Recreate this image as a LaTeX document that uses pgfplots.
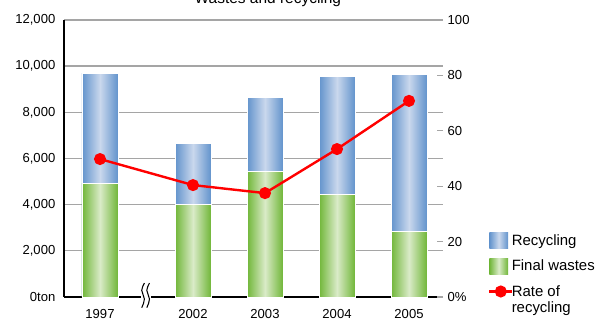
\documentclass[border=0pt]{standalone}
\usepackage{fontspec}
\setmainfont{Liberation Sans}
\usepackage{pgfplots}
\pgfplotsset{compat=1.18}
\definecolor{blueE}{RGB}{98,147,204}
\definecolor{blueM}{RGB}{202,216,237}
\definecolor{greenE}{RGB}{112,182,56}
\definecolor{greenM}{RGB}{218,235,200}
\definecolor{gridc}{RGB}{165,165,165}
\begin{document}
\begin{tikzpicture}
\pgfplotsset{
  /pgf/number format/assume math mode=true,
  every axis/.append style={
    scale only axis, width=284.25pt, height=207.75pt,
    xmin=64, xmax=443,
  },
  bluebar/.style={ybar, bar width=36, bar shift=0pt, draw=white, line width=0.7pt,
    left color=blueE, right color=blueE, middle color=blueM},
  greenbar/.style={ybar, bar width=36, bar shift=0pt, draw=white, line width=0.7pt,
    left color=greenE, right color=greenE, middle color=greenM},
}
\begin{axis}[
  at={(0,0)}, anchor=south west,
  ymin=0, ymax=12000,
  scaled y ticks=false,
  axis x line*=bottom, axis y line*=left,
  axis line style={black, line width=1.3pt},
  y axis line style={black, line width=1.5pt},
  xtick={100,193,265,337,409},
  xticklabels={1997,2002,2003,2004,2005},
  ytick={0,2000,...,12000},
  yticklabels={0ton,{2,000},{4,000},{6,000},{8,000},{10,000},{12,000}},
  major tick length=0pt,
  ymajorgrids, grid style={gridc, line width=1pt},
  tick label style={font=\fontsize{9.8}{11}\selectfont},
  yticklabel style={xshift=-3pt},
  xticklabel style={yshift=-5.5pt},
  clip=false,
]
% Recycling bars (top of stack = final wastes + recycling)
\addplot[bluebar] coordinates {(100,9700)};
\addplot[bluebar] coordinates {(193,6670)};
\addplot[bluebar] coordinates {(265,8660)};
\addplot[bluebar] coordinates {(337,9570)};
\addplot[bluebar] coordinates {(409,9620)};
% Final wastes bars
\addplot[greenbar] coordinates {(100,4900)};
\addplot[greenbar] coordinates {(193,4000)};
\addplot[greenbar] coordinates {(265,5420)};
\addplot[greenbar] coordinates {(337,4460)};
\addplot[greenbar] coordinates {(409,2820)};
% axis break
\draw[white, line width=4pt] ([xshift=-3.8pt]axis cs:146,0) -- ([xshift=3.8pt]axis cs:146,0);
\draw[black, line width=0.8pt] ([xshift=-1.2pt,yshift=10.5pt]axis cs:146,0)
  to[out=-110,in=90] ([xshift=-3.2pt,yshift=5pt]axis cs:146,0)
  to[out=-90,in=90] ([xshift=-1.2pt,yshift=-1.5pt]axis cs:146,0)
  to[out=-90,in=70] ([xshift=-3.2pt,yshift=-8pt]axis cs:146,0);
\draw[black, line width=0.8pt] ([xshift=2.6pt,yshift=10.5pt]axis cs:146,0)
  to[out=-110,in=90] ([xshift=0.6pt,yshift=5pt]axis cs:146,0)
  to[out=-90,in=90] ([xshift=2.6pt,yshift=-1.5pt]axis cs:146,0)
  to[out=-90,in=70] ([xshift=0.6pt,yshift=-8pt]axis cs:146,0);
\node[anchor=base, font=\fontsize{11.6}{13}\selectfont] at (rel axis cs:0.538,1.0578) {Wastes and recycling};
\end{axis}
\begin{axis}[
  at={(0,0)}, anchor=south west,
  ymin=0, ymax=100,
  axis x line=none, axis y line*=right,
  y axis line style={draw=none},
  ytick={0,20,...,100},
  yticklabels={0\%,20,40,60,80,100},
  tick align=inside, major tick length=4.5pt,
  ytick style={gridc, line width=1pt},
  tick label style={font=\fontsize{9.8}{11}\selectfont},
  yticklabel style={xshift=0pt},
  legend style={at={(rel axis cs:1.108,0.246)}, anchor=north west, draw=none, fill=none,
    font=\fontsize{11.2}{12}\selectfont, row sep=5.3pt,
    /tikz/every odd column/.append style={column sep=-3.2pt}},
  legend cell align=left,
  clip=false,
]
\addlegendimage{legend image code/.code={\path[draw=none, left color=blueE, right color=blueE, middle color=blueM] (0pt,-6pt) rectangle (14pt,6pt);}}
\addlegendentry{Recycling}
\addlegendimage{legend image code/.code={\path[draw=none, left color=greenE, right color=greenE, middle color=greenM] (0pt,-6pt) rectangle (14pt,6pt);}}
\addlegendentry{Final wastes}
\addplot[red, line width=1.8pt, mark=*, mark size=3.6pt, mark options={solid, fill=red}]
  coordinates {(100,49.8) (193,40.4) (265,37.5) (337,53.4) (409,70.8)};
\addlegendentry{\begin{tabular}[t]{@{}l@{}}Rate of\\recycling\end{tabular}}
\end{axis}
\pgfresetboundingbox
\path[use as bounding box] (-48pt,-19.5pt) rectangle (408.75pt,222.75pt);
\end{tikzpicture}
\end{document}
